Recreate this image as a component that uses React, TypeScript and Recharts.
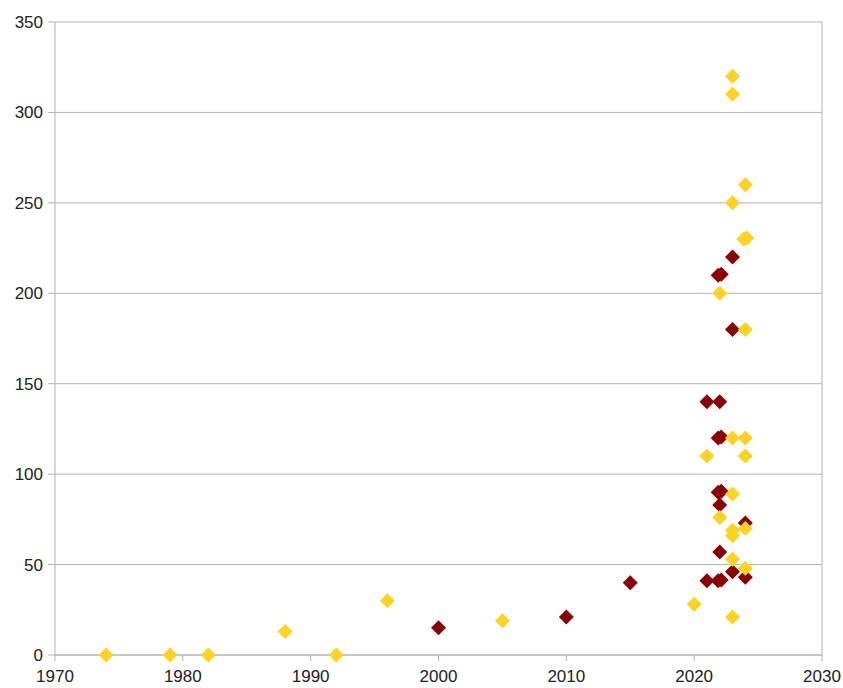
import { ScatterChart, Scatter, XAxis, YAxis, CartesianGrid, ReferenceLine } from "recharts";

// dark red series
const redYears = [2000, 2010, 2015, 2021, 2022, 2021.88, 2022.12, 2023, 2023, 2021.88, 2022.12, 2021.88, 2022.12, 2022, 2022, 2021, 2021.88, 2022.12, 2023, 2024, 2024];
const redValues = [15, 21, 40, 140, 140, 210, 210.5, 220, 180, 120, 120.5, 90, 90.5, 83, 57, 41, 41, 41.5, 46, 73, 43];

// yellow series
const yellowYears = [1974, 1979, 1982, 1988, 1992, 1996, 2005, 2020, 2021, 2022, 2022, 2023, 2023, 2023, 2023, 2023, 2023, 2023, 2023, 2023, 2023.88, 2024.12, 2024, 2024, 2024, 2024, 2024, 2024];
const yellowValues = [0, 0, 0, 13, 0, 30, 19, 28, 110, 200, 76, 320, 310, 250, 120, 89, 69, 66, 53, 21, 230, 230.5, 260, 180, 120, 110, 70, 48];

const xTicks = [1970, 1980, 1990, 2000, 2010, 2020, 2030];
const yTicks = [0, 50, 100, 150, 200, 250, 300, 350];

const redData = redYears.map((x, i) => ({ x, y: redValues[i] }));
const yellowData = yellowYears.map((x, i) => ({ x, y: yellowValues[i] }));

const Diamond = (props: any) => {
  const { cx, cy, fill } = props;
  const r = 7.5;
  return <path d={`M${cx},${cy - r}L${cx + r},${cy}L${cx},${cy + r}L${cx - r},${cy}Z`} fill={fill} />;
};

const tickStyle = { fontSize: 17, fill: "#222", fontFamily: "Liberation Sans, Arial, sans-serif" };
const gridColor = "#b3b3b3";

export default function App() {
  return (
    <div style={{ position: "absolute", left: 0, top: 0, background: "#fff" }}>
      <ScatterChart width={843} height={688} margin={{ top: 22, right: 21, bottom: 0, left: 0 }}>
        <CartesianGrid vertical={false} stroke={gridColor} />
        <XAxis
          type="number"
          dataKey="x"
          domain={[1970, 2030]}
          ticks={xTicks}
          height={33}
          tickSize={6}
          tickMargin={9}
          stroke={gridColor}
          tick={tickStyle}
          interval={0}
        />
        <YAxis
          type="number"
          dataKey="y"
          domain={[0, 350]}
          ticks={yTicks}
          width={55}
          tickSize={7}
          tickMargin={5}
          stroke={gridColor}
          tick={tickStyle}
          interval={0}
        />
        <ReferenceLine x={2030} stroke={gridColor} />
        <Scatter data={redData} fill="#8b0000" shape={Diamond} isAnimationActive={false} />
        <Scatter data={yellowData} fill="#ffd320" shape={Diamond} isAnimationActive={false} />
      </ScatterChart>
    </div>
  );
}
